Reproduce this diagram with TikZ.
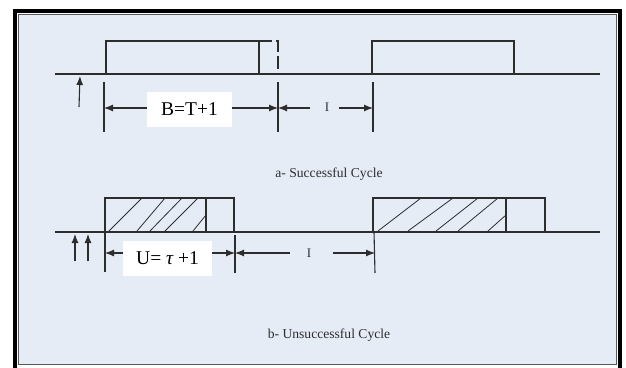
\documentclass[tikz,border=0pt]{standalone}
\usepackage{fontspec}
\setmainfont{Liberation Serif}
\usetikzlibrary{arrows.meta}
\definecolor{linec}{RGB}{45,45,45}
\definecolor{bgc}{RGB}{230,236,246}
\begin{document}
\begin{tikzpicture}[x=1pt,y=-1pt,
  ln/.style={draw=linec, line width=1.1pt},
  dim/.style={draw=linec, line width=1.1pt, -{Latex[length=9pt,width=7pt]}},
  hatch/.style={draw=linec, line width=0.8pt},
  lbl/.style={fill=white, inner sep=0pt, font=\fontsize{19.5}{22}\selectfont, text=black},
  smalltxt/.style={inner sep=0pt, font=\fontsize{13}{15}\selectfont, text=linec},
  captxt/.style={inner sep=0pt, font=\fontsize{13.6}{15}\selectfont, text=linec}]
\useasboundingbox (0,0) rectangle (626,367);
\fill[white] (0,0) rectangle (626,367);
% frame
\fill[bgc] (17.5,14.5) rectangle (616,364);
\draw[black, line width=3.5pt] (15,380) -- (15,11) -- (620,11) -- (620,380);
\draw[gray!70!black, line width=1pt] (18,364) -- (18,14.5) -- (616,14.5) -- (616,364) -- cycle;

% ===== a: successful cycle =====
\coordinate (a0) at (55,74);
\coordinate (a9) at (600,74);
\draw[ln] (a0) -- (a9);
\draw[ln, line width=2pt] (329,74) -- (345,74);
\coordinate (b1bl) at (106,74);
\coordinate (b1tr) at (259,41);
\draw[ln] (b1bl) |- (b1tr) -- (259,74);
\draw[ln, dash pattern=on 13pt off 4pt] (259,41) -- (278,41) -- (278,74);
\coordinate (b2bl) at (372,74);
\coordinate (b2tr) at (514,41);
\draw[ln] (b2bl) |- (b2tr) -- (514,74);
% arrival arrow
\coordinate (arrA0) at (79,107);
\coordinate (arrA1) at (80,76);
\draw[dim] (arrA0) -- (arrA1);
% ticks
\coordinate (ta1t) at (104,82); \coordinate (ta1b) at (104,132);
\coordinate (ta2t) at (278,82); \coordinate (ta2b) at (278,132);
\coordinate (ta3t) at (373,82); \coordinate (ta3b) at (373,132);
\draw[ln] (ta1t) -- (ta1b);
\draw[ln] (ta2t) -- (ta2b);
\draw[ln] (ta3t) -- (ta3b);
\coordinate (da1) at (104,108);
\coordinate (da2) at (278,108);
\coordinate (da3) at (373,108);
\node[lbl, minimum width=85pt, minimum height=35pt] (B) at (189.5,109.5) {B=T+1};
\draw[dim] (B.west |- da1) -- (da1);
\draw[dim] (B.east |- da2) -- (da2);
\node[smalltxt] (Ia) at (327,107) {I};
\coordinate (ia1) at (310,108);
\coordinate (ia2) at (339,108);
\draw[dim] (ia1) -- (da2);
\draw[dim] (ia2) -- (da3);
\node[captxt] (capa) at (329,174) {a- Successful Cycle};

% ===== b: unsuccessful cycle =====
\coordinate (c0) at (55,232);
\coordinate (c9) at (600,232);
\draw[ln] (c0) -- (c9);
% box 3
\draw[hatch] (109,231) -- (142,198);
\draw[hatch] (137,231) -- (165,198);
\draw[hatch] (150,231) -- (182,198);
\draw[hatch] (165,231) -- (198,198);
\draw[hatch] (193,231) -- (206,215);
\draw[ln] (105,232) -- (105,198) -- (234,198) -- (234,232);
\draw[ln] (206,198) -- (206,232);
% box 4
\draw[hatch] (378,231) -- (421,198);
\draw[hatch] (408,231) -- (453,198);
\draw[hatch] (436,231) -- (478,198);
\draw[hatch] (458,231) -- (498,198);
\draw[hatch] (488,231) -- (506,215);
\draw[ln] (373,232) -- (373,198) -- (545,198) -- (545,232);
\draw[ln] (506,198) -- (506,232);
% arrival arrows
\coordinate (arrB0) at (75,261); \coordinate (arrB1) at (75,234);
\coordinate (arrC0) at (88,261); \coordinate (arrC1) at (88,234);
\draw[dim] (arrB0) -- (arrB1);
\draw[dim] (arrC0) -- (arrC1);
% ticks
\coordinate (tb1t) at (105,232); \coordinate (tb1b) at (105,272);
\coordinate (tb2t) at (235,235); \coordinate (tb2b) at (235,273);
\coordinate (tb3t) at (374,232); \coordinate (tb3b) at (375,273);
\draw[ln] (tb1t) -- (tb1b);
\draw[ln] (tb2t) -- (tb2b);
\draw[ln] (tb3t) -- (tb3b);
\coordinate (db1) at (105,253);
\coordinate (db2) at (235,253);
\coordinate (db3) at (375,253);
\node[lbl, minimum width=89pt, minimum height=35pt] (U) at (167.5,258.5) {U= {\itshape τ} +1};
\draw[dim] (U.west |- db1) -- (db1);
\draw[dim] (U.east |- db2) -- (db2);
\node[smalltxt] (Ib) at (309,253) {I};
\coordinate (ib1) at (290,253);
\coordinate (ib2) at (333,253);
\draw[dim] (ib1) -- (db2);
\draw[dim] (ib2) -- (db3);
\node[captxt] (capb) at (329,335) {b- Unsuccessful Cycle};
\end{tikzpicture}
\end{document}
